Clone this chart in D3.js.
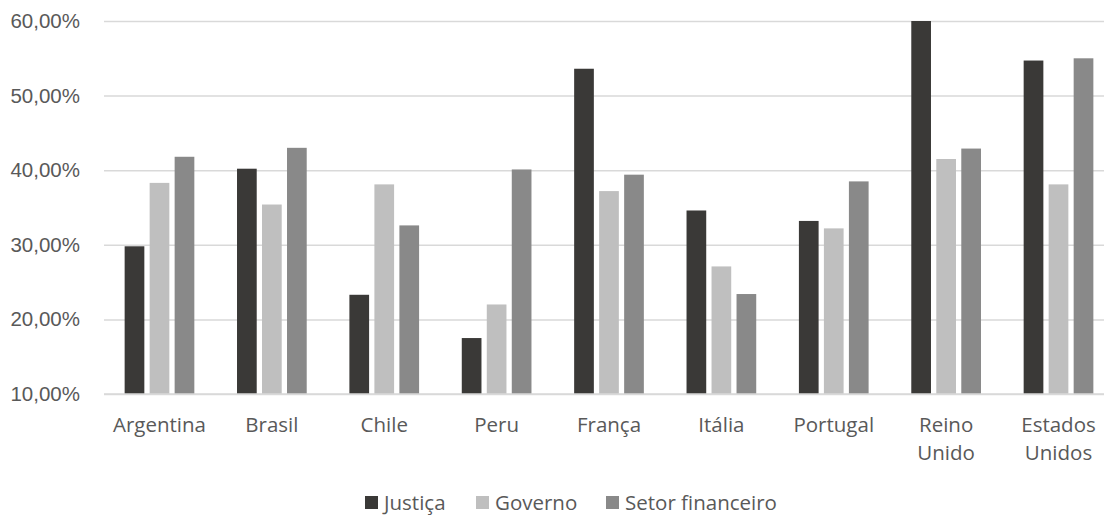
<!DOCTYPE html>
<html>
<head>
<meta charset="utf-8">
<script src="https://cdn.jsdelivr.net/npm/d3@7"></script>
<style>
  html, body { margin: 0; padding: 0; background: #fff; }
  svg { display: block; font-family: "Open Sans", sans-serif; }
</style>
</head>
<body>
<svg id="chart" width="1104" height="517"></svg>
<script>
// Categories (country names; "\n" splits a label into two lines)
const categories = ["Argentina", "Brasil", "Chile", "Peru", "França", "Itália", "Portugal", "Reino\nUnido", "Estados\nUnidos"];
const seriesNames = ["Justiça", "Governo", "Setor financeiro"];
// Values in percent
const justica  = [29.8, 40.2, 23.3, 17.5, 53.6, 34.6, 33.2, 60.0, 54.7];
const governo  = [38.3, 35.4, 38.1, 22.0, 37.2, 27.1, 32.2, 41.5, 38.1];
const financeiro = [41.8, 43.0, 32.6, 40.1, 39.4, 23.4, 38.5, 42.9, 55.0];
const yTicks = [10, 20, 30, 40, 50, 60];
const colors = ["#3a3937", "#bfbfbf", "#898989"];

const series = [justica, governo, financeiro];
const svg = d3.select("#chart");
const W = 1104;

const x = d3.scaleBand().domain(categories).range([103.3, 1114.7]).paddingInner(0).paddingOuter(0);
const inner = d3.scaleBand().domain(seriesNames).range([0, 69.7]).paddingInner(0.212);
const y = d3.scaleLinear().domain([10, 60]).range([394, 21]);

const fmt = v => d3.format(".2f")(v).replace(".", ",") + "%";

// gridlines and value axis labels
const yAxis = d3.axisLeft(y).tickValues(yTicks).tickSize(-(W - 104)).tickFormat(fmt).tickPadding(24);
const gy = svg.append("g").attr("transform", "translate(104,0)").call(yAxis);
gy.select(".domain").remove();
gy.selectAll(".tick line").attr("stroke", "#d9d9d9").attr("stroke-width", 1.5);
gy.selectAll(".tick text").attr("fill", "#595959").attr("font-size", 20.5).attr("x", -24);

// bars
const groups = svg.append("g").selectAll("g").data(categories).join("g")
  .attr("transform", d => `translate(${x(d) + (x.bandwidth() - 69.7) / 2},0)`);
groups.selectAll("rect").data((c, i) => series.map((s, k) => ({ name: seriesNames[k], v: s[i], k })))
  .join("rect")
  .attr("x", d => inner(d.name))
  .attr("width", inner.bandwidth())
  .attr("y", d => y(d.v))
  .attr("height", d => y(10) - y(d.v))
  .attr("fill", d => colors[d.k]);

// baseline
svg.append("line").attr("x1", 104).attr("x2", W).attr("y1", y(10)).attr("y2", y(10))
  .attr("stroke", "#d9d9d9").attr("stroke-width", 1.5);

// category labels
const xl = svg.append("g").selectAll("text").data(categories).join("text")
  .attr("x", d => x(d) + x.bandwidth() / 2)
  .attr("y", 432)
  .attr("text-anchor", "middle")
  .attr("fill", "#595959")
  .attr("font-size", 20.5);
xl.selectAll("tspan").data(d => d.split("\n")).join("tspan")
  .attr("x", function () { return d3.select(this.parentNode).attr("x"); })
  .attr("dy", (d, i) => i === 0 ? 0 : 28)
  .text(d => d);

// legend
const legendX = [365, 476, 606];
const lg = svg.append("g").selectAll("g").data(seriesNames).join("g")
  .attr("transform", (d, i) => `translate(${legendX[i]},0)`);
lg.append("rect").attr("x", 0).attr("y", 496).attr("width", 13).attr("height", 13)
  .attr("fill", (d, i) => colors[i]);
lg.append("text").attr("x", 19).attr("y", 510).attr("fill", "#595959").attr("font-size", 20.5).text(d => d);
</script>
</body>
</html>
